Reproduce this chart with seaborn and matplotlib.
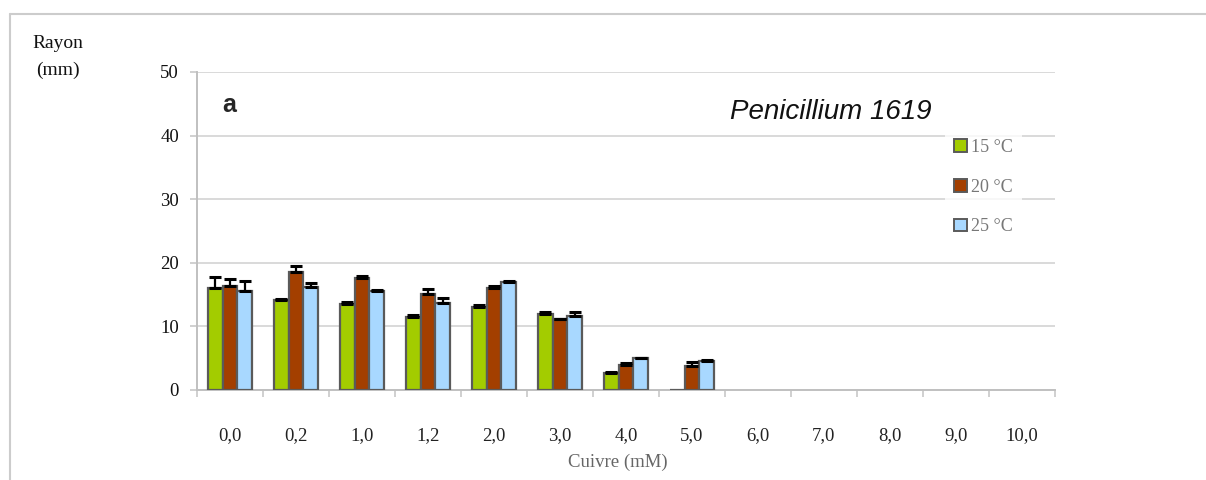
import matplotlib
matplotlib.use("Agg")
import matplotlib.pyplot as plt
from matplotlib.patches import Patch
from matplotlib.lines import Line2D
import seaborn as sns
import pandas as pd
import numpy as np

# Data
copper = ["0,0", "0,2", "1,0", "1,2", "2,0", "3,0", "4,0", "5,0",
          "6,0", "7,0", "8,0", "9,0", "10,0"]
temps = ["15 °C", "20 °C", "25 °C"]
r15 = [16.1, 14.1, 13.5, 11.5, 13.1, 12.0, 2.7, 0.0, 0, 0, 0, 0, 0]
r20 = [16.4, 18.5, 17.6, 15.1, 16.1, 11.1, 4.0, 3.7, 0, 0, 0, 0, 0]
r25 = [15.6, 16.2, 15.6, 13.7, 17.0, 11.7, 5.0, 4.6, 0, 0, 0, 0, 0]
e15 = [1.6, 0.2, 0.3, 0.3, 0.2, 0.2, 0.2, 0.0, 0, 0, 0, 0, 0]
e20 = [1.1, 1.0, 0.3, 0.8, 0.2, 0.0, 0.2, 0.7, 0, 0, 0, 0, 0]
e25 = [1.5, 0.7, 0.1, 0.7, 0.2, 0.6, 0.1, 0.1, 0, 0, 0, 0, 0]
colors = ["#a3cc00", "#a33f00", "#a8d8ff"]

df = pd.DataFrame({
    "Cuivre": copper * 3,
    "Temp": np.repeat(temps, len(copper)),
    "Rayon": r15 + r20 + r25,
})
errs = [e15, e20, e25]

sns.set_style("white")
fig = plt.figure(figsize=(12.06, 4.8), dpi=100)
ax = fig.add_axes([0.1633, 0.1875, 0.7114, 0.6625])

sns.barplot(data=df, x="Cuivre", y="Rayon", hue="Temp", order=copper,
            hue_order=temps, palette=colors, width=0.67, errorbar=None,
            edgecolor="#5a5a5a", linewidth=1.6, saturation=1, ax=ax,
            legend=False, zorder=3)

# error bars (upper only), from the bar positions; hide empty groups
for cont, err in zip(ax.containers, errs):
    for i, (bar, e) in enumerate(zip(cont, err)):
        h = bar.get_height()
        if h == 0 and e == 0:
            if i >= 8:
                bar.set_visible(False)
            continue
        xc = bar.get_x() + bar.get_width() / 2
        ax.errorbar(xc, h, yerr=[[0], [e]], fmt="none", ecolor="black",
                    elinewidth=1.6, capsize=4, capthick=2.2, zorder=4)

ax.set_ylim(0, 50)
ax.set_xlim(-0.5, len(copper) - 0.5)
ax.set_yticks(range(0, 51, 10))
ax.grid(axis="y", color="#d9d9d9", linewidth=1.4, zorder=0)
ax.set_axisbelow(True)
for s in ["top", "right"]:
    ax.spines[s].set_visible(False)
for s in ["left", "bottom"]:
    ax.spines[s].set_color("#c0c0c0")
    ax.spines[s].set_linewidth(1.4)

ax.tick_params(axis="y", length=5, width=1.2, color="#c8c8c8", pad=8,
               labelsize=13.5, labelcolor="#111111", left=True)
ax.tick_params(axis="x", which="major", length=0, pad=27, labelsize=13.5,
               labelcolor="#222222")
ax.set_xticks(np.arange(-0.5, len(copper)), minor=True)
ax.tick_params(axis="x", which="minor", length=5, width=1.2, color="#c8c8c8",
               bottom=True)
for lab in ax.get_xticklabels() + ax.get_yticklabels():
    lab.set_family("Liberation Serif")

ax.set_ylabel("")
ax.set_xlabel("Cuivre (mM)", family="Liberation Serif", fontsize=13.5,
              color="#666666", va="center")
ax.xaxis.set_label_coords(0.4907, -0.226)

ax.text(0.03, 0.895, "a", transform=ax.transAxes, fontsize=18,
        fontweight="bold", family="Liberation Sans", va="center")
ax.text(0.856, 0.875, "Penicillium 1619", transform=ax.transAxes,
        fontsize=20, style="italic", family="Liberation Sans",
        ha="right", va="center", color="#111111")

fig.text(0.048, 1 - 43 / 480, "Rayon", family="Liberation Serif",
         fontsize=14, ha="center", va="center", color="#111111")
fig.text(0.048, 1 - 70 / 480, "(mm)", family="Liberation Serif",
         fontsize=14, ha="center", va="center", color="#111111")

handles = [Patch(facecolor=c, edgecolor="#5a5a5a", linewidth=1.4)
           for c in colors]
leg = ax.legend(handles, temps, loc="upper left",
                bbox_to_anchor=(0.776, 0.748), bbox_transform=fig.transFigure,
                frameon=True, handlelength=0.7, handleheight=0.7,
                handletextpad=0.25, labelspacing=1.25, borderpad=0.5,
                prop={"family": "Liberation Serif", "size": 13})
leg.get_frame().set_facecolor("white")
leg.get_frame().set_edgecolor("none")
leg.set_zorder(5)
for t in leg.get_texts():
    t.set_color("#777777")

# thin outer frame of the original panel
fig.add_artist(Line2D([10 / 1206, 1], [1 - 14 / 480, 1 - 14 / 480],
                      color="#cccccc", linewidth=1.5))
fig.add_artist(Line2D([10 / 1206, 10 / 1206], [0, 1 - 14 / 480],
                      color="#cccccc", linewidth=1.5))

fig.savefig("out.png", dpi=100)
